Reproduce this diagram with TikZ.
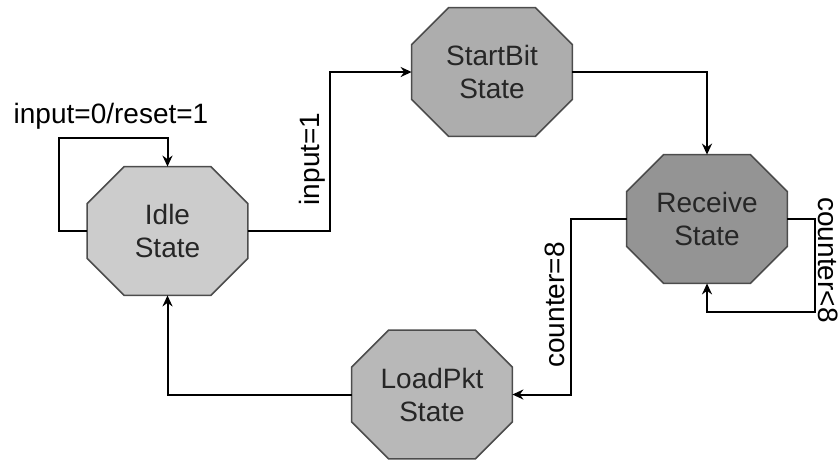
\documentclass[tikz,border=0pt]{standalone}
\usepackage{fontspec}
\setmainfont{Liberation Sans}
\usepackage{tikz}
\usetikzlibrary{arrows.meta,calc,backgrounds}
\definecolor{idlegray}{gray}{0.80}
\definecolor{startgray}{gray}{0.68}
\definecolor{recvgray}{gray}{0.58}
\definecolor{loadgray}{gray}{0.72}
\newcommand{\octpath}[1]{($(#1.north west)+(18.5pt,0)$) -- ($(#1.north east)+(-18.5pt,0)$)
  -- ($(#1.north east)+(0,-18.5pt)$) -- ($(#1.south east)+(0,18.5pt)$)
  -- ($(#1.south east)+(-18.5pt,0)$) -- ($(#1.south west)+(18.5pt,0)$)
  -- ($(#1.south west)+(0,18.5pt)$) -- ($(#1.north west)+(0,-18.5pt)$) -- cycle}

\begin{document}
\begin{tikzpicture}[x=0.5pt,y=-0.5pt,>={Stealth[length=5.5pt,width=5pt]},
  font=\fontsize{14}{16.5}\selectfont,
  fsm/.style={rectangle,minimum width=80pt,minimum height=64pt,
    inner sep=0pt,align=center,text=black!85},
  wire/.style={line width=1pt}]
\useasboundingbox (0,0) rectangle (839,462);
\node[fsm] (idle)  at (167.5,231) {Idle\\State};
\node[fsm] (start) at (492,72)    {StartBit\\State};
\node[fsm] (recv)  at (707,219)   {Receive\\State};
\node[fsm] (load)  at (432,394.5) {LoadPkt\\State};
\begin{scope}[on background layer]
  \foreach \n/\c in {idle/idlegray,start/startgray,recv/recvgray,load/loadgray}
    \filldraw[fill=\c,draw=black!70,line width=0.8pt] \octpath{\n};
\end{scope}
% labels
\node (lblreset) at (111,116) {input=0/reset=1};
\node[rotate=90]  (lblin)   at (312,159) {input=1};
\node[rotate=90]  (lbleq)   at (555,305) {counter=8};
\node[rotate=-90] (lbllt)   at (828.5,260) {counter<8};
% transitions
\draw[wire,->] (idle.west) -- ++(-28,0) |- ($(idle.north)+(0,-29)$) -- (idle.north);
\draw[wire,->] (idle.east) -- ++(82,0) |- (start.west);
\draw[wire,->] (start.east) -| (recv.north);
\draw[wire,->] (recv.east) -- ++(28,0) |- ($(recv.south)+(0,29)$) -- (recv.south);
\draw[wire,->] (recv.west) -- ++(-56,0) |- (load.east);
\draw[wire,->] (load.west) -| (idle.south);
\end{tikzpicture}
\end{document}
